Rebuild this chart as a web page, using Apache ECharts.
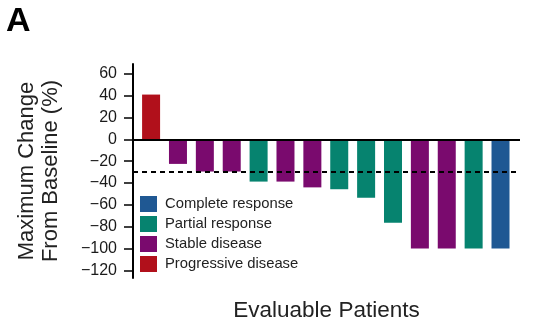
<!DOCTYPE html>
<html>
<head>
<meta charset="utf-8">
<script src="https://cdn.jsdelivr.net/npm/echarts@6/dist/echarts.min.js"></script>
<style>
html,body{margin:0;padding:0;background:#fff;}
#chart{width:552px;height:334px;}
</style>
</head>
<body>
<div id="chart"></div>
<script>
var patients = [1, 2, 3, 4, 5, 6, 7, 8, 9, 10, 11, 12, 13, 14];
var changes = [41, -22.5, -29.5, -29.5, -38.7, -38.7, -44, -45.7, -53.4, -76.3, -100, -100, -100, -100];
var responses = ['Progressive disease', 'Stable disease', 'Stable disease', 'Stable disease',
  'Partial response', 'Stable disease', 'Stable disease', 'Partial response', 'Partial response',
  'Partial response', 'Stable disease', 'Stable disease', 'Partial response', 'Complete response'];
var responseTypes = ['Complete response', 'Partial response', 'Stable disease', 'Progressive disease'];
var typeColors = ['#1f5893', '#06836f', '#7a0a6e', '#b1101b'];
var yTicks = [60, 40, 20, 0, -20, -40, -60, -80, -100, -120];
var threshold = -30;

var font = 'Liberation Sans, Arial, Helvetica, sans-serif';

var series = responseTypes.map(function (t, k) {
  var d = [];
  for (var i = 0; i < patients.length; i++) {
    if (responses[i] === t) d.push([patients[i], changes[i]]);
  }
  return {
    name: t,
    type: 'bar',
    data: d,
    barWidth: 18,
    barGap: '-100%',
    itemStyle: { color: typeColors[k] },
    emphasis: { disabled: true }
  };
});
series.push({
  type: 'line',
  data: [],
  z: 10,
  markLine: {
    silent: true,
    symbol: 'none',
    label: { show: false },
    data: [
      { yAxis: 0, lineStyle: { color: '#000', width: 2, type: 'solid' } },
      { yAxis: threshold, lineStyle: { color: '#000', width: 2, type: [5, 4] } }
    ]
  }
});

var chart = echarts.init(document.getElementById('chart'), null, { renderer: 'canvas' });
chart.setOption({
  animation: false,
  backgroundColor: '#fff',
  title: {
    text: 'A',
    left: 6,
    top: 5,
    padding: 0,
    textStyle: { fontFamily: font, fontSize: 34, fontWeight: 'bold', color: '#000' }
  },
  legend: {
    orient: 'vertical',
    left: 140,
    top: 196,
    padding: 0,
    itemWidth: 17,
    itemHeight: 16,
    itemGap: 4,
    icon: 'rect',
    data: responseTypes,
    textStyle: { fontFamily: font, fontSize: 14.8, color: '#222', padding: [0, 0, 0, 3] }
  },
  grid: { left: 133, right: 32, top: 64, bottom: 56, containLabel: false },
  xAxis: {
    type: 'value',
    min: 0.327,
    max: 14.725,
    axisLine: { show: false, onZero: false },
    axisTick: { show: false },
    axisLabel: { show: false },
    splitLine: { show: false },
    name: 'Evaluable Patients',
    nameLocation: 'middle',
    nameGap: 21,
    nameTextStyle: { fontFamily: font, fontSize: 22.5, color: '#222', verticalAlign: 'top' }
  },
  yAxis: {
    type: 'value',
    min: -127,
    max: 69,
    axisLine: { show: true, lineStyle: { color: '#000', width: 2 } },
    axisTick: { show: true, length: 9, inside: false, customValues: yTicks, lineStyle: { color: '#000', width: 1.5 } },
    axisLabel: {
      customValues: yTicks,
      margin: 16,
      fontFamily: font,
      fontSize: 16,
      color: '#1a1a1a',
      formatter: function (v) { return v < 0 ? '\u2212' + Math.abs(v) : String(v); }
    },
    splitLine: { show: false },
    name: 'Maximum Change\nFrom Baseline (%)',
    nameLocation: 'middle',
    nameRotate: 90,
    nameGap: 70,
    nameTextStyle: { fontFamily: font, fontSize: 22, color: '#222', lineHeight: 24, align: 'center' }
  },
  series: series
});
</script>
</body>
</html>
